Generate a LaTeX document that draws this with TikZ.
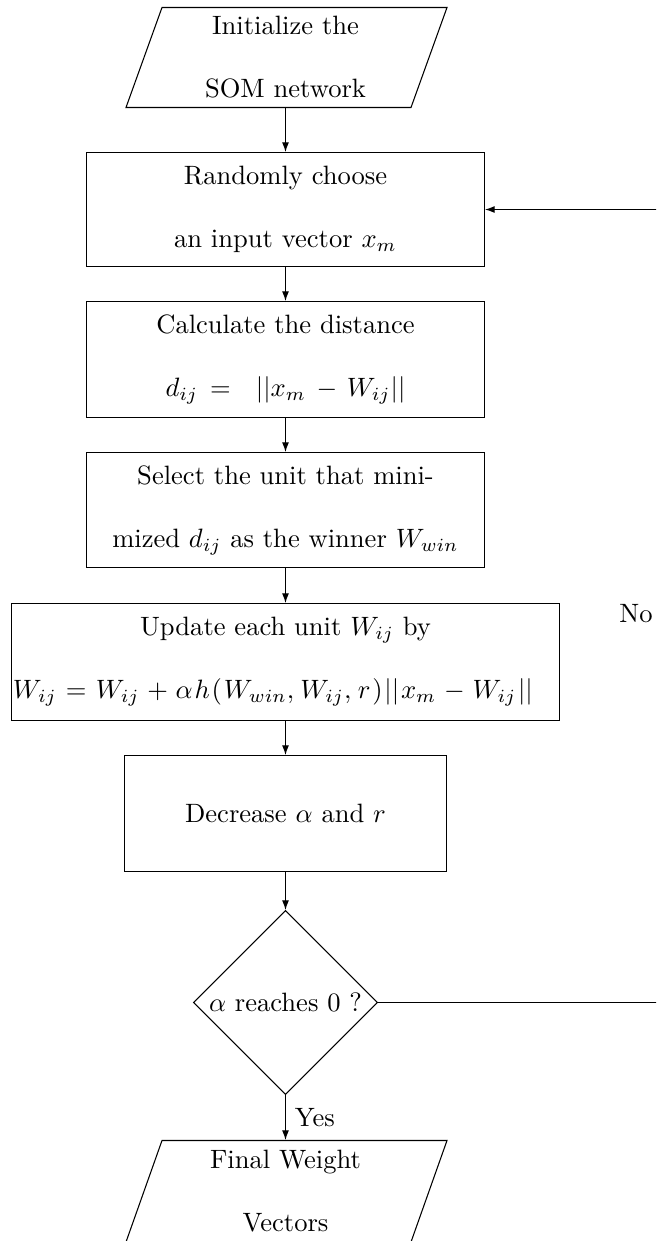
\documentclass[tikz,border=0pt]{standalone}
\usetikzlibrary{shapes.geometric,arrows.meta}
\def\pxu{0.3766pt}
% small stretchable math space, used to spread a formula over a fixed width
\newcommand\flexsp{\mskip0mu plus 1mu}
\tikzset{
  flowbox/.style={draw, rectangle, align=center, inner sep=0pt},
  iotext/.style={align=center, inner sep=0pt},
  decision/.style={draw, diamond, aspect=1, inner sep=0pt, align=center},
  flowarrow/.style={-{Latex[length=3.6pt,width=2.6pt]}},
}
\begin{document}
\begin{tikzpicture}[x=0.3766pt, y=-0.3766pt]
  \useasboundingbox (0,0) rectangle (656,1241);
  \clip (0,0) rectangle (656,1241);

  % input parallelogram
  \node[iotext, minimum width=285*\pxu, minimum height=100*\pxu] (init) at (285.5,57.5)
    {Initialize the\\[11.7pt] SOM network};
  \draw (162,7.5) -- (447,7.5) -- (411,107.5) -- (126,107.5) -- cycle;

  % process steps
  \node[flowbox, minimum width=398*\pxu, minimum height=114*\pxu] (rand) at (285.5,209.5)
    {Randomly choose\\[11.7pt] an input vector $x_m$};
  \node[flowbox, minimum width=398*\pxu, minimum height=116*\pxu] (dist) at (285.5,359.5)
    {Calculate the distance\\[11.7pt]
     $d_{ij}\hskip4.5pt\mathord{=}\hskip9.5pt||x_m\hskip4pt\mathord{-}\hskip3.6pt W_{ij}||$};
  \node[flowbox, minimum width=398*\pxu, minimum height=115*\pxu] (sel) at (285.5,510)
    {Select the unit that mini-\\[11.7pt] mized $d_{ij}$ as the winner $W_{win}$};
  \node[flowbox, minimum width=548*\pxu, minimum height=117*\pxu] (upd) at (285.5,662)
    {Update each unit $W_{ij}$ by\\[11.7pt]
     \makebox[206.4pt][l]{\hspace{0.56pt}\hbox to 195.8pt{$\thickmuskip=5mu plus 1mu
       \medmuskip=4mu plus 1mu
       W_{ij} = W_{ij} + \alpha\flexsp h\flexsp(\flexsp W_{win},\flexsp W_{ij},\flexsp
       r\flexsp)\flexsp||\flexsp x_m - W_{ij}\flexsp||$}}};
  \node[flowbox, minimum width=322*\pxu, minimum height=116*\pxu] (dec) at (285.5,813.5)
    {Decrease $\alpha$ and $r$};

  % decision
  \node[decision, minimum width=184*\pxu, minimum height=184*\pxu] (chk) at (285.5,1002.5)
    {$\alpha$ reaches 0 ?};

  % output parallelogram
  \node[iotext, minimum width=285*\pxu, minimum height=101*\pxu] (final) at (285.5,1191)
    {Final Weight\\[11.7pt] Vectors};
  \draw (162,1140.5) -- (447,1140.5) -- (411,1242) -- (126,1242) -- cycle;

  % connectors
  \draw[flowarrow] (init) -- (rand);
  \draw[flowarrow] (rand) -- (dist);
  \draw[flowarrow] (dist) -- (sel);
  \draw[flowarrow] (sel) -- (upd);
  \draw[flowarrow] (upd) -- (dec);
  \draw[flowarrow] (dec) -- (chk);
  \draw[flowarrow] (chk) -- node[right, inner sep=3.33pt] {Yes} (final);

  % loop back
  \coordinate (loopcorner) at (662,1002.5);
  \draw[flowarrow] (chk.east) -- (loopcorner) |- node[pos=0.245, left] {No} (rand.east);
\end{tikzpicture}
\end{document}
